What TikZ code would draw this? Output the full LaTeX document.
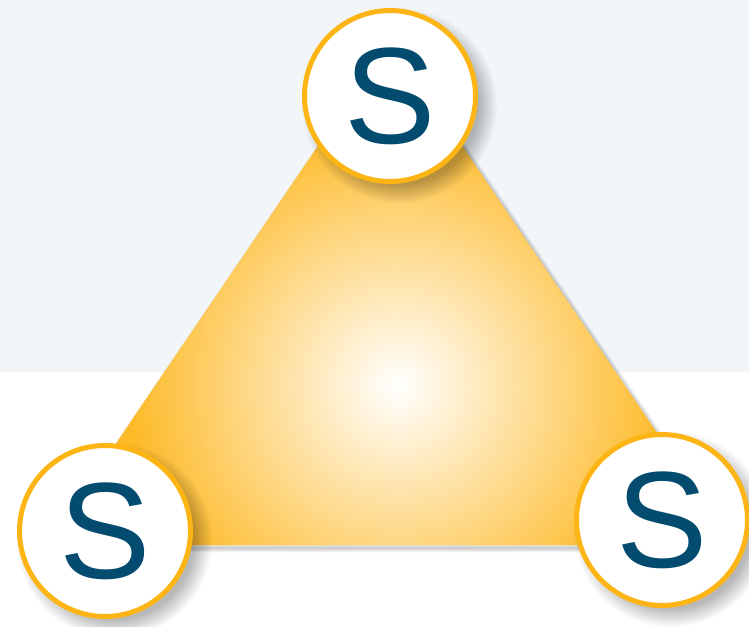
\documentclass[tikz,border=0pt]{standalone}
\usepackage{fontspec}
\setmainfont{Liberation Sans}
\usepackage{tikz}
\usetikzlibrary{calc,fadings}

\definecolor{bandgray}{RGB}{243,246,249}
\definecolor{ringgold}{RGB}{253,181,21}
\definecolor{trigold}{RGB}{253,186,40}
\definecolor{sblue}{RGB}{4,75,112}

\begin{document}
\begin{tikzpicture}[x=0.02cm, y=-0.02cm,
  sbox/.style={draw=ringgold, fill=white, circle, line width=0.1cm,
    minimum size=3.42cm, inner sep=0pt, text=sblue,
    font=\fontsize{78}{94}\selectfont},
  shad/.style={black, opacity=0.28, path fading=circle with fuzzy edge 20 percent},
  trishad/.style={black, opacity=0.05, line join=round},
]
\useasboundingbox (0,0) rectangle (749,626);

%==== Hintergrund ====
\fill[bandgray] (0,0) rectangle (749,372);

%==== Dreieck ====
\coordinate (ta) at (390,40);
\coordinate (tl) at (47,545);
\coordinate (tr) at (733,545);
\foreach \w in {1,...,4}
  \draw[trishad, line width=\w*0.04cm] ($(ta)+(2,3)$) -- ($(tl)+(2,3)$) -- ($(tr)+(2,3)$) -- cycle;
\fill[trigold] (ta) -- (tl) -- (tr) -- cycle;
\begin{scope}
  \clip (ta) -- (tl) -- (tr) -- cycle;
  \shade[inner color=white, outer color=trigold] (398,385) circle (270);
\end{scope}

%==== Kreise ====
\coordinate (c1) at (390,96);
\coordinate (c2) at (105,531);
\coordinate (c3) at (662,520);
\foreach \c in {c1,c2,c3}
  \fill[shad] ($(\c)+(9,9)$) circle (98);
\node[sbox] (s1) at (c1) {S};
\node[sbox] (s2) at (c2) {S};
\node[sbox] (s3) at (c3) {S};

\end{tikzpicture}
\end{document}
